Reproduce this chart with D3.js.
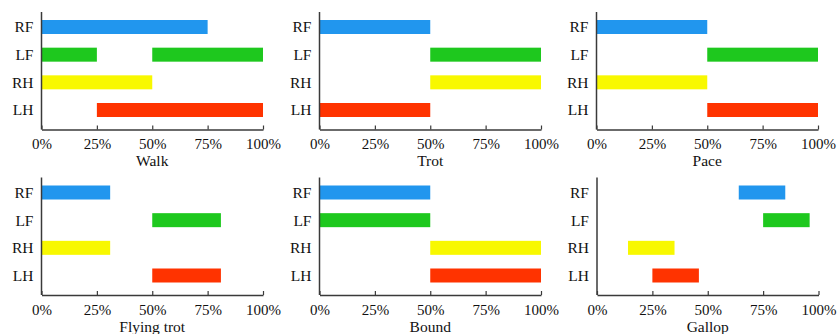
<!DOCTYPE html>
<html>
<head>
<meta charset="utf-8">
<script src="https://cdn.jsdelivr.net/npm/d3@7"></script>
<style>
  html, body { margin: 0; padding: 0; background: #fff; }
  svg { display: block; }
  text { font-family: "Liberation Serif", "Times New Roman", serif; fill: #111; }
</style>
</head>
<body>
<svg id="chart" width="837" height="334"></svg>
<script>
// Legs (rows, top to bottom) and their colours
const legs = ["RF", "LF", "RH", "LH"];
const legColors = ["#2196ee", "#1ec81e", "#f8f800", "#ff3300"];

// Gait names, one panel each
const gaits = ["Walk", "Trot", "Pace", "Flying trot", "Bound", "Gallop"];

// Stance phases per gait: [leg, start %, end %]
const walk = [["RF", 0, 75], ["LF", 0, 25], ["LF", 50, 100], ["RH", 0, 50], ["LH", 25, 100]];
const trot = [["RF", 0, 50], ["LF", 50, 100], ["RH", 50, 100], ["LH", 0, 50]];
const pace = [["RF", 0, 50], ["LF", 50, 100], ["RH", 0, 50], ["LH", 50, 100]];
const flyingTrot = [["RF", 0, 31], ["LF", 50, 81], ["RH", 0, 31], ["LH", 50, 81]];
const bound = [["RF", 0, 50], ["LF", 0, 50], ["RH", 50, 100], ["LH", 50, 100]];
const gallop = [["RF", 64, 85], ["LF", 75, 96], ["RH", 14, 35], ["LH", 25, 46]];

const gaitPhases = [walk, trot, pace, flyingTrot, bound, gallop];

// Gait-cycle axis
const tickValues = [0, 25, 50, 75, 100];
const tickLabels = ["0%", "25%", "50%", "75%", "100%"];

// Panel layout
const panelW = 221.5;
const panelH = 117.5;
const panelX = [[41.5, 319.5, 596.5], [41.5, 319.5, 597]];
const panelY = [12, 177.5];
const barH = 14;
const axisColor = "#3a3a3a";
const font = "'Liberation Serif', 'Times New Roman', serif";

const svg = d3.select("#chart");

const x = d3.scaleLinear().domain([0, 100]).range([0, panelW]);
const y = d3.scalePoint().domain(legs).range([15, 98]);
const color = d3.scaleOrdinal().domain(legs).range(legColors);

gaits.forEach((name, i) => {
  const row = Math.floor(i / 3), col = i % 3;
  const g = svg.append("g")
    .attr("transform", `translate(${panelX[row][col]},${panelY[row]})`);

  // Stance bars
  g.selectAll("rect.phase")
    .data(gaitPhases[i])
    .join("rect")
    .attr("class", "phase")
    .attr("x", d => x(d[1]))
    .attr("width", d => x(d[2]) - x(d[1]))
    .attr("y", d => y(d[0]) - barH / 2)
    .attr("height", barH)
    .attr("fill", d => color(d[0]));

  // Vertical axis line
  g.append("line")
    .attr("x1", 0).attr("x2", 0)
    .attr("y1", 0).attr("y2", panelH)
    .attr("stroke", axisColor).attr("stroke-width", 1.5);

  // Leg labels
  const yAxis = g.append("g")
    .call(d3.axisLeft(y).tickSize(0).tickPadding(8));
  yAxis.select(".domain").remove();
  yAxis.selectAll("text")
    .attr("font-size", 15.5)
    .style("font-family", font)
    .attr("fill", "#111");

  // Horizontal axis with inward ticks
  const xAxis = g.append("g")
    .attr("transform", `translate(0,${panelH})`)
    .call(d3.axisBottom(x)
      .tickValues(tickValues)
      .tickFormat((d, k) => tickLabels[k])
      .tickSize(-4)
      .tickSizeOuter(0)
      .tickPadding(9));
  xAxis.select(".domain").attr("stroke", axisColor).attr("stroke-width", 1.5);
  xAxis.selectAll(".tick line").attr("stroke", axisColor).attr("stroke-width", 1.2);
  xAxis.selectAll("text")
    .attr("font-size", 15)
    .style("font-family", font)
    .attr("fill", "#111");

  // Gait title
  g.append("text")
    .attr("x", panelW / 2)
    .attr("y", panelH + 36.5)
    .attr("text-anchor", "middle")
    .attr("font-size", 15.5)
    .text(name);
});
</script>
</body>
</html>
